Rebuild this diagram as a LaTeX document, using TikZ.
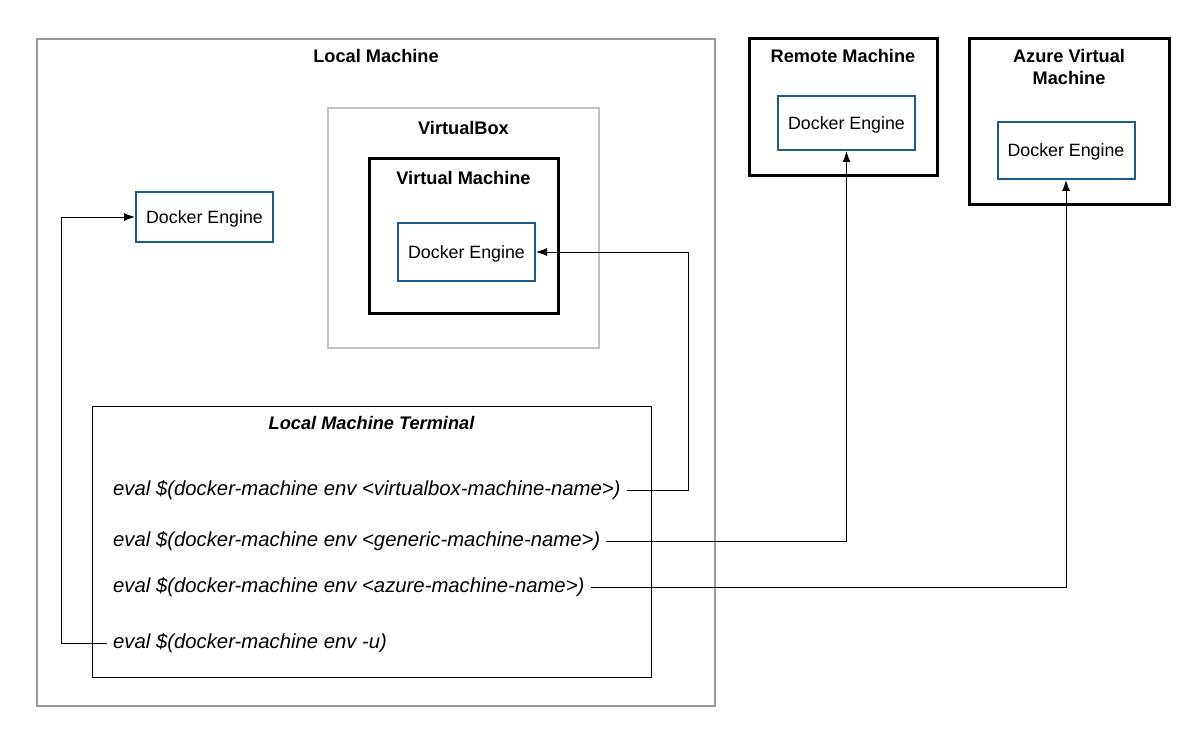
\documentclass[tikz,border=0pt]{standalone}
\usepackage{fontspec}
\setmainfont{Liberation Sans}
\usetikzlibrary{arrows.meta, positioning}
\definecolor{engineblue}{HTML}{1E5A8A}
\definecolor{hostgray}{HTML}{9A9A9A}
\definecolor{boxgray}{HTML}{C2C2C2}
\newcommand{\cmdtext}[1]{\textit{eval \$(docker-machine env #1)}}

\begin{document}
\begin{tikzpicture}[x=1pt, y=-1pt,
  engine/.style={rectangle, draw=engineblue, line width=2pt, minimum width=137pt, text depth=0pt, font=\fontsize{17.8}{20}\selectfont},
  machine/.style={rectangle, draw=black, line width=3pt},
  title/.style={font=\fontsize{18.2}{21.5}\selectfont\bfseries, align=center},
  command/.style={anchor=west, inner sep=6pt, font=\fontsize{20.3}{22}\selectfont},
  link/.style={-{Latex[length=11pt, width=8pt]}, line width=0.9pt}]
  \useasboundingbox (0,0) rectangle (1194,738);
  %Make the machine boxes
  \draw (376,372.5) node[rectangle, draw=hostgray, line width=1.2pt, minimum width=678pt, minimum height=667pt] (local) {};
  \draw (463.5,228) node[rectangle, draw=boxgray, line width=2pt, minimum width=271pt, minimum height=240pt] (vbox) {};
  \draw (463.5,236) node[machine, minimum width=189pt, minimum height=154pt] (vm) {};
  \draw (843,107.5) node[machine, minimum width=188pt, minimum height=137pt] (remote) {};
  \draw (1069,122) node[machine, minimum width=200pt, minimum height=166pt] (azure) {};
  \draw (371.5,541.5) node[rectangle, draw=black, line width=1pt, minimum width=559pt, minimum height=271pt] (terminal) {};

  %Titles of the boxes
  \draw (376,56) node[title] (localtitle) {Local Machine};
  \draw (463.5,128) node[title] (vboxtitle) {VirtualBox};
  \draw (463.5,178) node[title] (vmtitle) {Virtual Machine};
  \draw (843,56) node[title] (remotetitle) {Remote Machine};
  \draw (1069,67) node[title] (azuretitle) {Azure Virtual\\Machine};
  \draw (371.5,423) node[title, font=\fontsize{18.2}{21.5}\selectfont\bfseries\itshape] (termtitle) {Local Machine Terminal};

  %Docker engines
  \draw (204.5,217) node[engine, minimum height=50pt] (localengine) {Docker Engine};
  \draw (466.5,252) node[engine, minimum height=58pt] (vmengine) {Docker Engine};
  \draw (846.5,123) node[engine, minimum height=54pt] (remoteengine) {Docker Engine};
  \draw (1066,150.5) node[engine, minimum height=57pt] (azureengine) {Docker Engine};

  %Commands in the terminal
  \draw (107,490) node[command] (vbcmd) {\cmdtext{<virtualbox-machine-name>}};
  \draw (107,541) node[command] (gencmd) {\cmdtext{<generic-machine-name>}};
  \draw (107,587) node[command] (azcmd) {\cmdtext{<azure-machine-name>}};
  \draw (107,643) node[command] (unsetcmd) {\cmdtext{-u}};
  \coordinate (vbturn) at (688,490);
  \coordinate (unsetturn) at (61,643);

  %Arrows from commands to engines
  \draw[link] (vbcmd.east) -- (vbturn) |- (vmengine.east);
  \draw[link] (gencmd.east) -| (remoteengine.south);
  \draw[link] (azcmd.east) -| (azureengine.south);
  \draw[link] (unsetcmd.west) -- (unsetturn) |- (localengine.west);
\end{tikzpicture}
\end{document}
